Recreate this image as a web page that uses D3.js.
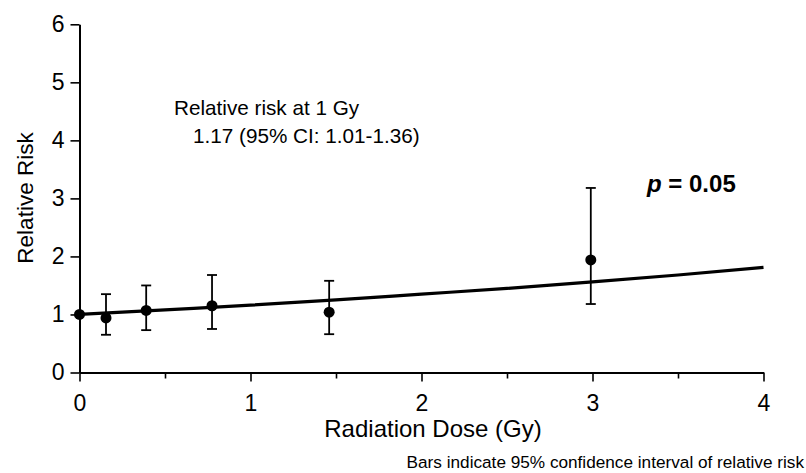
<!DOCTYPE html>
<html>
<head>
<meta charset="utf-8">
<script src="https://cdn.jsdelivr.net/npm/d3@7"></script>
<style>
  body { margin: 0; background: #fff; }
  svg { font-family: "Liberation Sans", Arial, sans-serif; }
  .axis path, .axis line { stroke: #000; }
  .axis text { fill: #000; }
</style>
</head>
<body>
<div class="canvas"></div>
<script>
// observed points (dose in Gy, relative risk, 95% CI)
const doses = [0, 0.155, 0.39, 0.775, 1.46, 2.99];
const risks = [1.0, 0.94, 1.07, 1.15, 1.04, 1.94];
const ciLow = [null, 0.65, 0.73, 0.75, 0.66, 1.18];
const ciHigh = [null, 1.35, 1.50, 1.68, 1.58, 3.18];

// fitted curve
const fitDoses = [0, 0.5, 1, 1.5, 2, 2.5, 3, 3.5, 4];
const fitRisks = [1.0, 1.08, 1.16, 1.25, 1.35, 1.45, 1.56, 1.68, 1.81];

const xTicks = [0, 1, 2, 3, 4];
const xMinorTicks = [0.5, 1.5, 2.5, 3.5];
const yTicks = [0, 1, 2, 3, 4, 5, 6];

const width = 806;
const height = 473;

const svg = d3.select('.canvas')
  .append('svg')
  .attr('width', width)
  .attr('height', height);

const x = d3.scaleLinear().domain([0, 4]).range([79.5, 763.5]);
const y = d3.scaleLinear().domain([0, 6]).range([372.5, 24.3]);

// minor x ticks
svg.append('g')
  .attr('class', 'axis')
  .attr('transform', `translate(0, ${y(0)})`)
  .call(d3.axisBottom(x).tickValues(xMinorTicks).tickSize(6).tickFormat(''))
  .call(g => g.select('.domain').remove())
  .selectAll('line').attr('stroke-width', 1.6);

const xAxis = svg.append('g')
  .attr('class', 'axis')
  .attr('transform', `translate(0, ${y(0)})`)
  .call(d3.axisBottom(x).tickValues(xTicks).tickSize(9).tickSizeOuter(0).tickPadding(13).tickFormat(d3.format('d')));
xAxis.select('.domain').attr('stroke-width', 1.8);
xAxis.selectAll('line').attr('stroke-width', 1.6);
xAxis.selectAll('text').attr('font-size', 23);

const yAxis = svg.append('g')
  .attr('class', 'axis')
  .attr('transform', `translate(${x(0)}, 0)`)
  .call(d3.axisLeft(y).tickValues(yTicks).tickSize(9).tickSizeOuter(0).tickPadding(6).tickFormat(d3.format('d')));
yAxis.select('.domain').attr('stroke-width', 2);
yAxis.selectAll('line').attr('stroke-width', 1.6);
yAxis.selectAll('text').attr('font-size', 23);

// axis titles
svg.append('text')
  .attr('transform', 'translate(33, 198) rotate(-90)')
  .attr('text-anchor', 'middle')
  .attr('font-size', 22.5)
  .text('Relative Risk');

svg.append('text')
  .attr('x', 433)
  .attr('y', 437)
  .attr('text-anchor', 'middle')
  .attr('font-size', 24)
  .text('Radiation Dose (Gy)');

// fitted line
const line = d3.line()
  .x(d => x(d[0]))
  .y(d => y(d[1]))
  .curve(d3.curveMonotoneX);

svg.append('path')
  .datum(d3.zip(fitDoses, fitRisks))
  .attr('fill', 'none')
  .attr('stroke', '#000')
  .attr('stroke-width', 3.2)
  .attr('d', line);

// error bars
const points = doses.map((d, i) => ({ dose: d, rr: risks[i], lo: ciLow[i], hi: ciHigh[i] }));
const bars = svg.append('g')
  .selectAll('g')
  .data(points.filter(p => p.lo !== null))
  .join('g')
  .attr('stroke', '#000')
  .attr('stroke-width', 1.8);

bars.append('line')
  .attr('x1', d => x(d.dose)).attr('x2', d => x(d.dose))
  .attr('y1', d => y(d.lo)).attr('y2', d => y(d.hi));
bars.append('line')
  .attr('x1', d => x(d.dose) - 5).attr('x2', d => x(d.dose) + 5)
  .attr('y1', d => y(d.hi)).attr('y2', d => y(d.hi));
bars.append('line')
  .attr('x1', d => x(d.dose) - 5).attr('x2', d => x(d.dose) + 5)
  .attr('y1', d => y(d.lo)).attr('y2', d => y(d.lo));

svg.append('g')
  .selectAll('circle')
  .data(points)
  .join('circle')
  .attr('cx', d => x(d.dose))
  .attr('cy', d => y(d.rr))
  .attr('r', 5.5)
  .attr('fill', '#000');

// annotations
svg.append('text')
  .attr('x', 174).attr('y', 115)
  .attr('font-size', 20.7)
  .text('Relative risk at 1 Gy');

svg.append('text')
  .attr('x', 193).attr('y', 143)
  .attr('font-size', 20.7)
  .text('1.17 (95% CI: 1.01-1.36)');

const pText = svg.append('text')
  .attr('x', 647).attr('y', 192)
  .attr('font-size', 24)
  .attr('font-weight', 'bold');
pText.append('tspan').attr('font-style', 'italic').text('p');
pText.append('tspan').text(' = 0.05');

svg.append('text')
  .attr('x', 804).attr('y', 468)
  .attr('text-anchor', 'end')
  .attr('font-size', 17.2)
  .text('Bars indicate 95% confidence interval of relative risk');
</script>
</body>
</html>
